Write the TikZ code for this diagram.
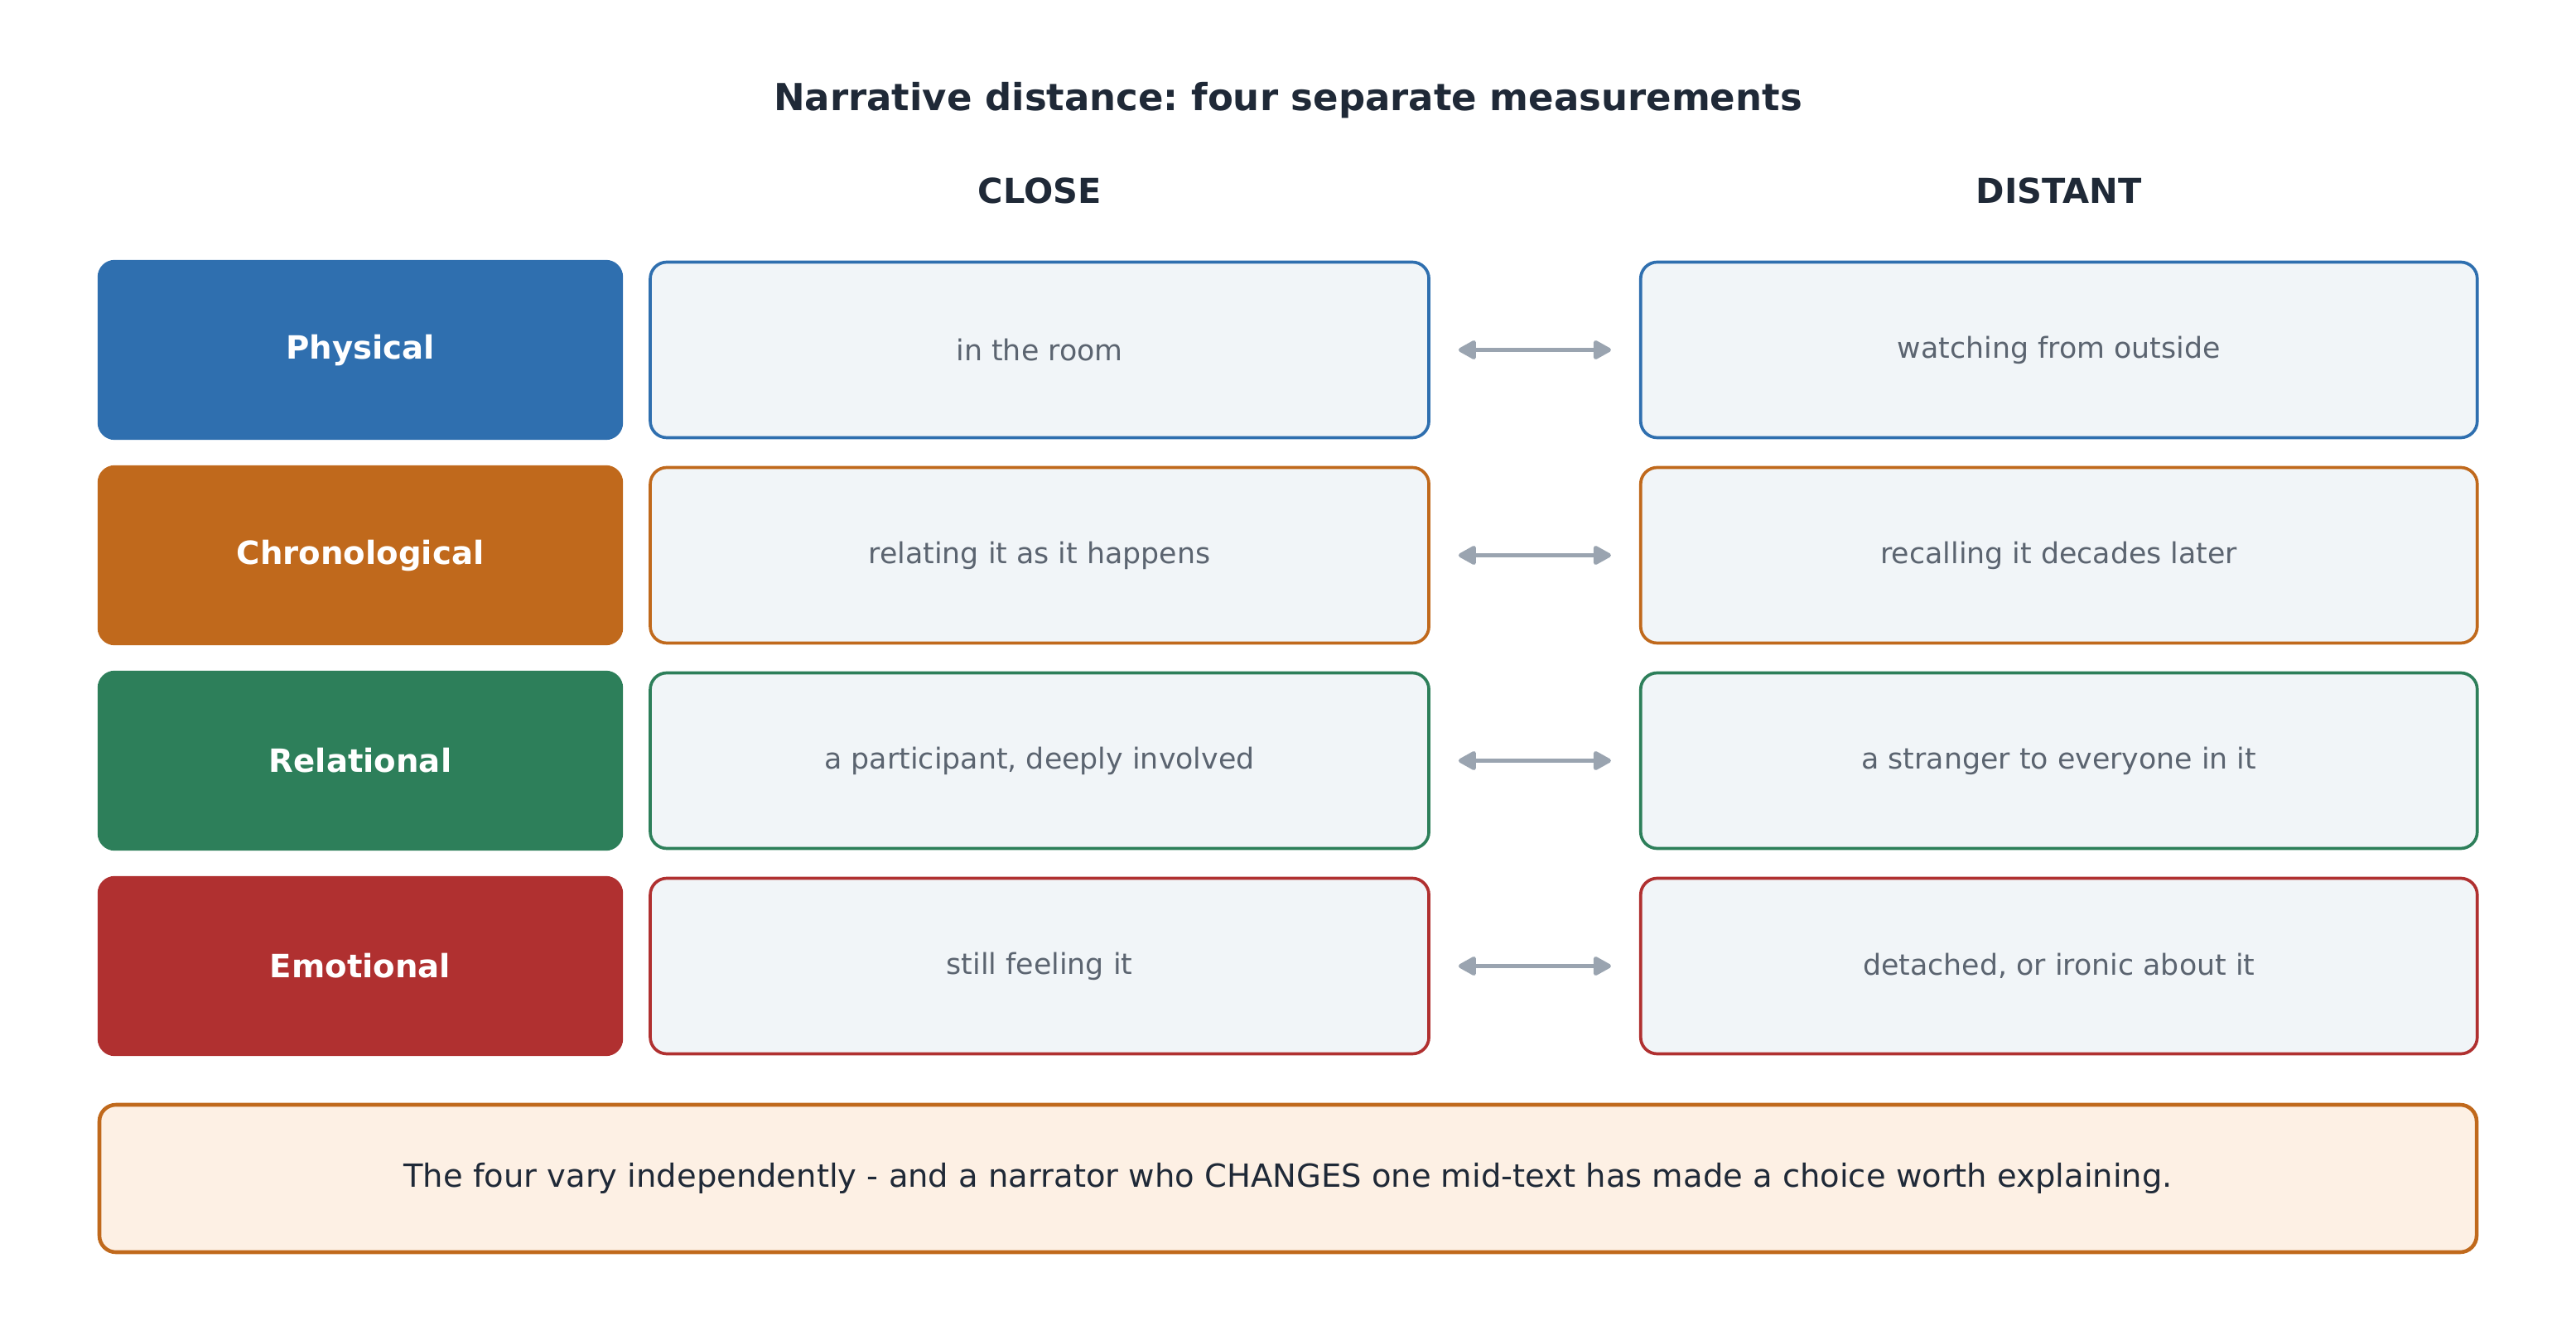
\documentclass[tikz,border=0pt]{standalone}
\usepackage{fontspec}
\setmainfont{DejaVu Sans}
\usepackage{xcolor}
\usepackage{tikz}
\usetikzlibrary{arrows.meta, positioning}
\definecolor{physcolor}{RGB}{47,111,175}
\definecolor{chroncolor}{RGB}{192,105,28}
\definecolor{relcolor}{RGB}{45,127,90}
\definecolor{emocolor}{RGB}{176,48,48}
\definecolor{cellfill}{RGB}{241,245,248}
\definecolor{notefill}{RGB}{253,240,228}
\definecolor{arrowgray}{RGB}{154,164,176}
\definecolor{textgray}{RGB}{91,100,112}
\definecolor{darktext}{RGB}{31,41,55}
\frenchspacing

\tikzset{
    labelbox/.style={rectangle, rounded corners=0.2cm, fill=#1, draw=#1, line width=0.4pt,
        minimum width=6.33cm, minimum height=2.16cm, inner sep=0pt, text=white,
        font=\fontsize{11}{13}\selectfont\bfseries},
    cellbox/.style={rectangle, rounded corners=0.2cm, fill=cellfill, draw=#1, line width=1.05pt,
        minimum height=2.12cm, inner sep=0pt, text=textgray, font=\fontsize{9.9}{12}\selectfont},
    header/.style={text=darktext, font=\fontsize{11.8}{14}\selectfont\bfseries},
    conn/.style={arrowgray, line width=1.45pt,
        {Triangle[round, length=2.4mm, width=2.5mm]}-{Triangle[round, length=2.4mm, width=2.5mm]}},
}

\begin{document}
\begin{tikzpicture}
    \useasboundingbox (0,0) rectangle (31.1,-16.12);

    % Title
    \node[text=darktext, font=\fontsize{12.8}{15}\selectfont\bfseries] (title) at (15.55,-1.21)
        {Narrative distance: four separate measurements};

    % Rows: label, close, distant
    \foreach \r/\y/\name/\col/\near/\far in {
        1/-4.225/Physical/physcolor/in the room/watching from outside,
        2/-6.705/Chronological/chroncolor/relating it as it happens/recalling it decades later,
        {3/-9.185/Relational/relcolor/a participant, deeply involved/a stranger to everyone in it},
        {4/-11.665/Emotional/emocolor/still feeling it/detached, or ironic about it}} {
        \node[labelbox=\col] (lab\r) at (4.35,\y) {\name};
        \node[cellbox=\col, minimum width=9.4cm, right=0.31cm of lab\r] (near\r) {\near};
        \node[cellbox=\col, minimum width=10.1cm, right=2.52cm of near\r] (far\r) {\far};
        \draw[conn] ([xshift=3.4mm]near\r.east) -- ([xshift=-3.4mm]far\r.west);
    }

    % Column heads
    \node[header] (closehd) at (near1.center |- 0,-2.30) {CLOSE};
    \node[header] (farhd) at (far1.center |- 0,-2.30) {DISTANT};

    % Note
    \node[rectangle, rounded corners=0.2cm, fill=notefill, draw=chroncolor, line width=1.3pt,
        minimum width=28.7cm, minimum height=1.78cm, inner sep=0pt, text=darktext,
        font=\fontsize{10.95}{13}\selectfont] (note) at (15.55,-14.23)
        {The four vary independently - and a narrator who CHANGES one mid-text has made a choice worth explaining.};
\end{tikzpicture}
\end{document}
